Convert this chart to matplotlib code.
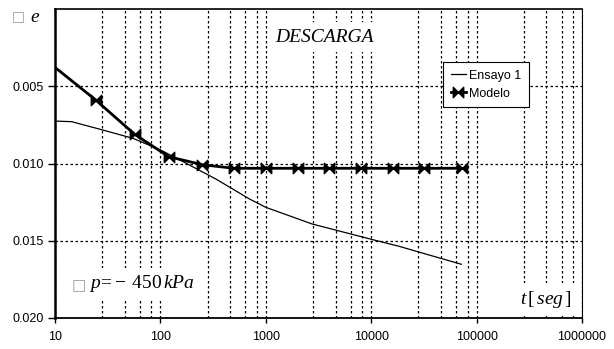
import matplotlib
matplotlib.use("Agg")
import matplotlib.pyplot as plt
from matplotlib.path import Path
from matplotlib.ticker import FixedLocator, NullFormatter

# ---- data ----
ensayo_t = [10, 14.4, 26.7, 55, 100, 164, 339, 700, 1000, 2750, 10000, 18500, 27700, 71600]
ensayo_e = [0.00725, 0.00729, 0.00778, 0.00837, 0.00912, 0.00988, 0.01102, 0.0123,
            0.01284, 0.01392, 0.01491, 0.01537, 0.01572, 0.01653]

model_t = [10, 24.3, 57, 120, 250, 500, 1000, 2000, 4000, 8000, 16000, 32000, 72000]
model_e = [0.00377, 0.00588, 0.00811, 0.00956, 0.01008, 0.01031, 0.01031, 0.01031,
           0.01031, 0.01031, 0.01031, 0.01031, 0.01031]

y_ticks = [0.005, 0.010, 0.015, 0.020]
x_ticks = [10, 100, 1000, 10000, 100000, 1000000]
x_tick_labels = ["10", "100", "1000", "10000", "100000", "1000000"]

plt.rcParams['font.family'] = ['Liberation Sans', 'DejaVu Sans']
plt.rcParams['mathtext.fontset'] = 'custom'
plt.rcParams['mathtext.rm'] = 'Liberation Serif'
plt.rcParams['mathtext.it'] = 'Liberation Serif:italic'
plt.rcParams['mathtext.bf'] = 'Liberation Serif:bold'

W, H = 614, 349
fig = plt.figure(figsize=(W / 100, H / 100), dpi=100)
ax = fig.add_axes([55 / W, 1 - 317.8 / H, (582 - 55) / W, (317.8 - 9.2) / H])

# bowtie marker
bow = Path([(-1, -1), (0, 0), (-1, 1), (-1, -1), (1, -1), (0, 0), (1, 1), (1, -1)],
           [Path.MOVETO, Path.LINETO, Path.LINETO, Path.CLOSEPOLY,
            Path.MOVETO, Path.LINETO, Path.LINETO, Path.CLOSEPOLY])

ax.plot(ensayo_t, ensayo_e, color='black', lw=0.9, label='Ensayo 1', zorder=2)
ax.plot(model_t, model_e, color='black', lw=2.0, marker=bow, markersize=7.5,
        markevery=list(range(1, len(model_t))), label='Modelo', zorder=2.1)

ax.set_xscale('log')
ax.set_xlim(10, 1e6)
ax.set_ylim(0.020, 0.0)

ax.set_xticks(x_ticks)
ax.set_xticklabels(x_tick_labels)
minor = [d * m for d in [10, 100, 1000, 10000, 100000] for m in (2.8, 4.6, 6.4, 8.2)]
ax.xaxis.set_minor_locator(FixedLocator(minor))
ax.xaxis.set_minor_formatter(NullFormatter())
ax.set_yticks(y_ticks)
ax.set_yticklabels(["%.3f" % v for v in y_ticks])

ax.set_axisbelow(True)
gkw = dict(color='black', lw=0.9, linestyle=(0, (2, 2)))
ax.grid(True, which='major', axis='both', **gkw)
ax.grid(True, which='minor', axis='x', **gkw)

ax.tick_params(axis='x', which='major', direction='out', length=3.5, width=1, pad=6,
               labelsize=9, colors='black')
ax.tick_params(axis='x', which='minor', length=0)
ax.tick_params(axis='y', which='major', direction='out', length=5, width=1, pad=3,
               labelsize=9, colors='black')

ax.spines['left'].set_linewidth(1.8)
ax.spines['bottom'].set_linewidth(1.3)
ax.spines['right'].set_linewidth(0.8)
ax.spines['top'].set_linewidth(1.2)
ax.spines['top'].set_linestyle((0, (2, 1)))

def fx(px):
    return px / W

def fy(py):
    return 1 - py / H

fig.text(fx(324), fy(37), "DESCARGA", family='Liberation Serif', style='italic',
         fontsize=14, ha='center', va='center', zorder=2.2,
         bbox=dict(facecolor='white', edgecolor='none', boxstyle='square,pad=0.35'))

fig.text(fx(79), fy(286), "\u25a1", family='DejaVu Sans', fontsize=11, color='#9a9a9a',
         ha='center', va='center', zorder=2.3)
fig.text(fx(89), fy(284), r"$p\!=\!-\:450\,kPa$", fontsize=14, ha='left', va='center',
         zorder=2.2,
         bbox=dict(facecolor='white', edgecolor='none', boxstyle='square,pad=0.3'))

fig.text(fx(546), fy(299), r"$t\,[\,seg\,]$", fontsize=14, ha='center', va='center',
         zorder=2.2,
         bbox=dict(facecolor='white', edgecolor='none', boxstyle='square,pad=0.3'))

fig.text(fx(18.5), fy(16), "\u25a1", family='DejaVu Sans', fontsize=10, color='#9a9a9a',
         ha='center', va='center')
fig.text(fx(35), fy(17), r"$e$", fontsize=14, ha='center', va='center')

leg = ax.legend(loc='upper left', bbox_to_anchor=(443 / W, 1 - 62 / H),
                bbox_transform=fig.transFigure, fontsize=9, frameon=True, fancybox=False,
                framealpha=1, edgecolor='black', borderpad=0.6, handlelength=1.2,
                handletextpad=0.3, labelspacing=0.5, borderaxespad=0, numpoints=1)
leg.get_frame().set_linewidth(0.8)
leg.set_zorder(3)

fig.savefig("out.png", dpi=100)
